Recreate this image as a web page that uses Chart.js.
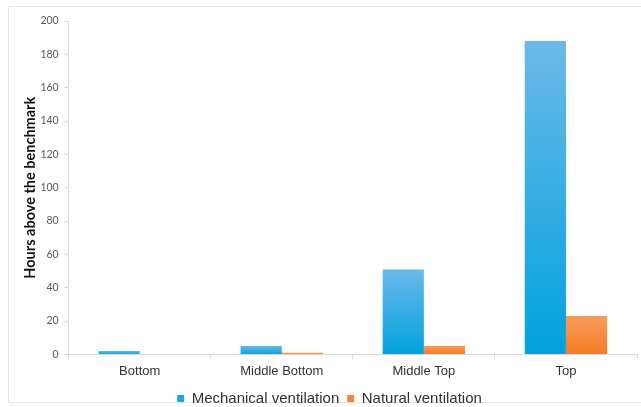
<!DOCTYPE html>
<html>
<head>
<meta charset="utf-8">
<script src="https://cdn.jsdelivr.net/npm/chart.js@4.4.1/dist/chart.umd.min.js"></script>
<style>
  html, body { margin: 0; padding: 0; background: #fff; }
  #wrap { position: relative; width: 641px; height: 407px; }
  #frame { position: absolute; left: 8px; top: 6px; width: 640px; height: 397px; border: 1px solid #e6e6e6; box-sizing: border-box; }
  canvas { position: absolute; left: 0; top: 0; }
</style>
</head>
<body>
<div id="wrap">
  <div id="frame"></div>
  <canvas id="chart" width="641" height="407"></canvas>
</div>
<script>
const CATEGORIES = ["Bottom", "Middle Bottom", "Middle Top", "Top"];
const MECHANICAL = [2, 5, 51, 188];
const NATURAL = [0, 1, 5, 23];
const Y_TICKS = [0, 20, 40, 60, 80, 100, 120, 140, 160, 180, 200];

const AXIS_COLOR = "#d9d9d9";
const TEXT_COLOR = "#595959";

// each bar gets its own gradient, light at the top, saturated at the base
function barGradient(top, bottom) {
  return (ctx) => {
    const chart = ctx.chart;
    const y = chart.scales.y;
    if (!y || ctx.parsed === undefined) return bottom;
    const yTop = y.getPixelForValue(ctx.parsed.y);
    const yBase = y.getPixelForValue(0);
    if (!isFinite(yTop) || !isFinite(yBase) || yBase - yTop < 1) return bottom;
    const g = chart.ctx.createLinearGradient(0, yTop, 0, yBase);
    g.addColorStop(0, top);
    g.addColorStop(1, bottom);
    return g;
  };
}

new Chart(document.getElementById("chart"), {
  type: "bar",
  data: {
    labels: CATEGORIES,
    datasets: [
      {
        label: "Mechanical ventilation",
        data: MECHANICAL,
        backgroundColor: barGradient("#6cb9e8", "#00a2de"),
        borderWidth: 0,
      },
      {
        label: "Natural ventilation",
        data: NATURAL,
        backgroundColor: barGradient("#f89c5c", "#f47c26"),
        borderWidth: 0,
      },
    ],
  },
  options: {
    responsive: false,
    animation: false,
    datasets: { bar: { categoryPercentage: 0.58, barPercentage: 1 } },
    layout: { padding: { left: 22, right: 4, top: 21, bottom: -9 } },
    plugins: {
      tooltip: { enabled: false },
      legend: {
        position: "bottom",
        labels: {
          color: "#333",
          font: { family: "Liberation Sans", size: 15 },
          boxWidth: 7,
          boxHeight: 7,
          padding: 8,
          generateLabels: (chart) =>
            chart.data.datasets.map((ds, i) => ({
              text: ds.label,
              fillStyle: i === 0 ? "#1ba8e0" : "#f58534",
              strokeStyle: "transparent",
              lineWidth: 0,
              datasetIndex: i,
              fontColor: "#333",
            })),
        },
      },
    },
    scales: {
      x: {
        grid: { drawOnChartArea: false, color: AXIS_COLOR, tickLength: 5 },
        border: { color: AXIS_COLOR },
        ticks: { color: "#333", font: { family: "Liberation Sans", size: 13 }, padding: 4 },
      },
      y: {
        min: 0,
        max: 200,
        afterBuildTicks: (axis) => { axis.ticks = Y_TICKS.map((v) => ({ value: v })); },
        grid: { drawOnChartArea: false, color: AXIS_COLOR, tickLength: 4 },
        border: { color: AXIS_COLOR },
        ticks: { color: TEXT_COLOR, font: { family: "Lato", size: 10.5 }, padding: 6 },
        title: {
          display: true,
          text: "Hours above the benchmark",
          color: "#111",
          font: { family: "Lato", size: 14.5, weight: "bold" },
          padding: { top: 0, bottom: -5 },
        },
      },
    },
  },
});
</script>
</body>
</html>
